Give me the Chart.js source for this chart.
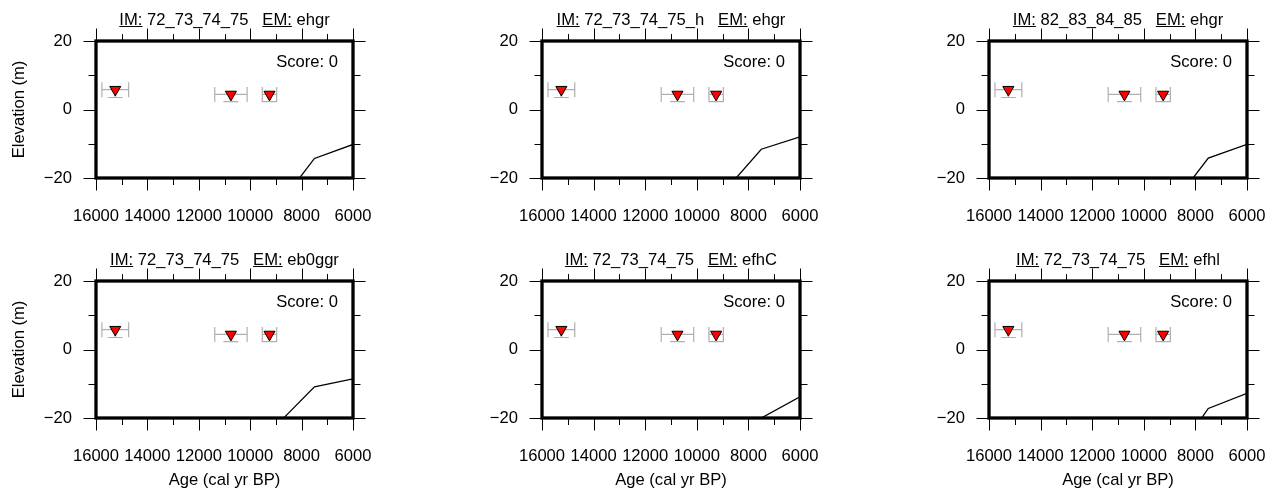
<!DOCTYPE html>
<html><head><meta charset="utf-8">
<script src="https://cdn.jsdelivr.net/npm/chart.js@4.4.1/dist/chart.umd.min.js"></script>
<style>
html,body{margin:0;padding:0;background:#fff;overflow:hidden;width:1279px;height:495px;}
canvas{position:absolute;}
</style></head><body>
<script>
// ---- data ----
const ages = [15250, 10750, 9250];
const ageErr = [520, 630, 280];
const elev = [5.8, 4.4, 4.4];
const elevLow = [3.5, 2.3, 2.3];
const elevHigh = [5.8, 4.4, 4.4];
const curveAges = [6000, 7500, 8500, 9500];
const curve1 = [-10.2, -14.3, -24.1, -33.0];
const curve2 = [-8.0, -11.6, -20.2, -29.0];
const curve3 = [-10.2, -14.2, -24.0, -33.0];
const curve4 = [-8.6, -10.9, -18.5, -26.2];
const curve5 = [-13.8, -20.0, -28.0, -36.0];
const curve6 = [-12.8, -17.2, -28.1, -38.0];
const imLabels = ['72_73_74_75', '72_73_74_75_h', '82_83_84_85', '72_73_74_75', '72_73_74_75', '72_73_74_75'];
const emLabels = ['ehgr', 'ehgr', 'ehgr', 'eb0ggr', 'efhC', 'efhl'];
const scores = [0, 0, 0, 0, 0, 0];
const xMajor = [16000, 14000, 12000, 10000, 8000, 6000];
const xMinor = [15000, 13000, 11000, 9000, 7000];
const yMajor = [-20, 0, 20];
const yMinor = [-10, 10];
const curves = [curve1, curve2, curve3, curve4, curve5, curve6];

// ---- layout ----
const FONT = "'Liberation Sans', Arial, Helvetica, sans-serif";
const FS = 16.6;
const boxLefts = [96, 542, 989];
const boxWidths = [257, 258, 258];
const canvasTops = [0, 240];
const canvasHeights = [240, 255];
const BOX_TOP = 41, BOX_H = 137, RIGHT_PAD = 33;

Chart.defaults.color = '#000';
Chart.defaults.font.family = FONT;
Chart.defaults.font.size = FS;

function makePanel(idx) {
  const row = Math.floor(idx / 3), col = idx % 3;
  const cv = document.createElement('canvas');
  const W = 96 + boxWidths[col] + RIGHT_PAD;
  const H = canvasHeights[row];
  cv.width = W; cv.height = H;
  cv.style.left = (boxLefts[col] - 96) + 'px';
  cv.style.top = canvasTops[row] + 'px';
  cv.style.width = W + 'px'; cv.style.height = H + 'px';
  document.body.appendChild(cv);

  const decor = {
    id: 'decor' + idx,
    beforeDatasetsDraw(chart) {
      const {ctx} = chart; const xs = chart.scales.x, ys = chart.scales.y;
      ctx.save();
      ctx.strokeStyle = '#b0b0b0'; ctx.lineWidth = 1.2;
      for (let i = 0; i < ages.length; i++) {
        const x0 = xs.getPixelForValue(ages[i] + ageErr[i]);
        const x1 = xs.getPixelForValue(ages[i] - ageErr[i]);
        const xc = xs.getPixelForValue(ages[i]);
        const yc = ys.getPixelForValue(elev[i]);
        const yl = ys.getPixelForValue(elevLow[i]);
        const yh = ys.getPixelForValue(elevHigh[i]);
        ctx.beginPath();
        ctx.moveTo(x0, yc); ctx.lineTo(x1, yc);
        ctx.moveTo(x0, yc - 7.5); ctx.lineTo(x0, yc + 7.5);
        ctx.moveTo(x1, yc - 7.5); ctx.lineTo(x1, yc + 7.5);
        ctx.moveTo(xc, yl); ctx.lineTo(xc, yh);
        ctx.moveTo(xc - 7.5, yl); ctx.lineTo(xc + 7.5, yl);
        ctx.moveTo(xc - 7.5, yh); ctx.lineTo(xc + 7.5, yh);
        ctx.stroke();
      }
      ctx.restore();
    },
    afterDraw(chart) {
      const {ctx, chartArea: a} = chart; const xs = chart.scales.x, ys = chart.scales.y;
      ctx.save();
      ctx.strokeStyle = '#000'; ctx.lineWidth = 1;
      const tick = (vals, len) => {
        ctx.beginPath();
        vals.forEach(v => {
          const p = Math.round(xs.getPixelForValue(v)) + 0.5;
          ctx.moveTo(p, a.top); ctx.lineTo(p, a.top - len);
          ctx.moveTo(p, a.bottom); ctx.lineTo(p, a.bottom + len);
        });
        ctx.stroke();
      };
      const ytick = (vals, len) => {
        ctx.beginPath();
        vals.forEach(v => {
          const p = Math.round(ys.getPixelForValue(v)) + 0.5;
          ctx.moveTo(a.left, p); ctx.lineTo(a.left - len, p);
          ctx.moveTo(a.right, p); ctx.lineTo(a.right + len, p);
        });
        ctx.stroke();
      };
      tick(xMajor, 12.5); tick(xMinor, 7);
      ytick(yMajor, 12.5); ytick(yMinor, 7.5);
      ctx.lineWidth = 3.3;
      ctx.strokeRect(a.left, a.top, a.right - a.left, a.bottom - a.top);
      ctx.font = FS + 'px ' + FONT;
      ctx.fillStyle = '#000';
      ctx.textAlign = 'right'; ctx.textBaseline = 'middle';
      ctx.fillText('Score: ' + scores[idx], a.right - 15, a.top + 21);
      const segs = [['IM:', true], [' ' + imLabels[idx] + '   ', false], ['EM:', true], [' ' + emLabels[idx], false]];
      ctx.textAlign = 'left'; ctx.textBaseline = 'alphabetic';
      const widths = segs.map(s => ctx.measureText(s[0]).width);
      const total = widths.reduce((p, c) => p + c, 0);
      let x = (a.left + a.right) / 2 - total / 2;
      const by = a.top - 16.5;
      ctx.lineWidth = 1;
      segs.forEach((s, i) => {
        ctx.fillText(s[0], x, by);
        if (s[1]) {
          ctx.beginPath();
          ctx.moveTo(x, by + 2); ctx.lineTo(x + widths[i], by + 2);
          ctx.stroke();
        }
        x += widths[i];
      });
      ctx.restore();
    }
  };

  new Chart(cv, {
    type: 'scatter',
    data: {
      datasets: [
        {
          type: 'line',
          data: curveAges.map((a, i) => ({x: a, y: curves[idx][i]})),
          borderColor: '#000', borderWidth: 1.3, pointRadius: 0, fill: false, clip: 0, order: 2
        },
        {
          data: ages.map((a, i) => ({x: a, y: elev[i]})),
          pointStyle: 'triangle', rotation: 180, pointRadius: 6.4,
          backgroundColor: '#ff0000', borderColor: '#000', borderWidth: 1, order: 1
        }
      ]
    },
    options: {
      responsive: false, animation: false, devicePixelRatio: 1,
      layout: {padding: {top: BOX_TOP, left: 0, right: RIGHT_PAD, bottom: 0}},
      plugins: {legend: {display: false}, tooltip: {enabled: false}},
      scales: {
        x: {
          type: 'linear', reverse: true, min: 6000, max: 16000,
          afterBuildTicks: s => { s.ticks = xMajor.map(v => ({value: v})); },
          ticks: {padding: 20.6, maxRotation: 0, autoSkip: false, callback: v => String(v), font: {size: FS, family: FONT}, color: '#000'},
          grid: {display: false}, border: {display: false},
          title: {display: row === 1, text: 'Age (cal yr BP)', color: '#000', font: {size: FS, family: FONT}, padding: {top: 0, bottom: 5}},
          afterFit: s => { s.height = H - BOX_TOP - BOX_H; s.paddingLeft = 0; s.paddingRight = 0; }
        },
        y: {
          type: 'linear', min: -20, max: 20,
          afterBuildTicks: s => { s.ticks = yMajor.map(v => ({value: v})); },
          ticks: {padding: 16, callback: v => String(v).replace('-', '\u2212'), font: {size: FS, family: FONT}, color: '#000'},
          grid: {display: false}, border: {display: false},
          title: {display: col === 0, text: 'Elevation (m)', color: '#000', font: {size: FS, family: FONT}, padding: {top: 9, bottom: 0}},
          afterFit: s => { s.width = 96; s.paddingTop = 0; s.paddingBottom = 0; }
        }
      }
    },
    plugins: [decor]
  });
}
for (let i = 0; i < 6; i++) makePanel(i);
</script>
</body></html>
